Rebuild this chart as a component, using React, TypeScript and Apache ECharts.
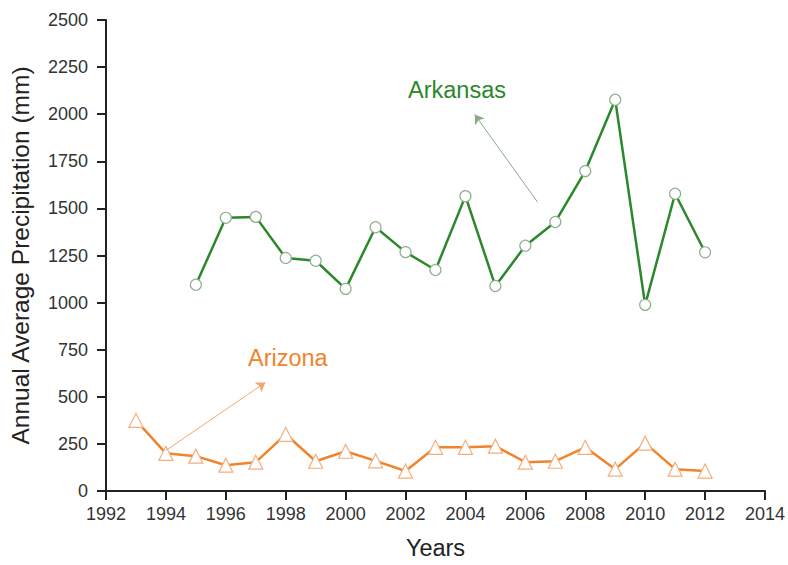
import React, { useEffect, useRef } from "react";
import * as echarts from "echarts";

const arkansasYears = [1995, 1996, 1997, 1998, 1999, 2000, 2001, 2002, 2003, 2004, 2005, 2006, 2007, 2008, 2009, 2010, 2011, 2012];
const arkansasValues = [1095, 1450, 1455, 1237, 1222, 1073, 1400, 1268, 1173, 1565, 1088, 1302, 1428, 1698, 2077, 988, 1578, 1267];

const arizonaYears = [1993, 1994, 1995, 1996, 1997, 1998, 1999, 2000, 2001, 2002, 2003, 2004, 2005, 2006, 2007, 2008, 2009, 2010, 2011, 2012];
const arizonaValues = [375, 200, 185, 137, 153, 301, 158, 211, 160, 106, 232, 232, 238, 153, 158, 232, 116, 254, 116, 106];

const arkansasArrow = [[2006.41, 1533], [2004.31, 1998]];
const arizonaArrow = [[1994.0, 215], [1997.32, 576]];

const FONT = "'Liberation Sans', Arial, sans-serif";

export default function App() {
  const ref = useRef<HTMLDivElement>(null);
  useEffect(() => {
    if (!ref.current) return;
    const chart = echarts.init(ref.current, undefined, { renderer: "svg" });
    const green = "#2b882b";
    const orange = "#f0842c";
    chart.setOption({
      animation: false,
      backgroundColor: "#ffffff",
      textStyle: { fontFamily: FONT },
      grid: { left: 106, right: 21, top: 20, bottom: 72 },
      xAxis: {
        type: "value",
        min: 1992,
        max: 2014,
        interval: 2,
        name: "Years",
        nameLocation: "middle",
        nameGap: 45,
        nameTextStyle: { fontSize: 23.5, color: "#222", fontFamily: FONT },
        axisLine: { show: true, lineStyle: { color: "#222", width: 2 } },
        axisTick: { show: true, length: 9, lineStyle: { color: "#222", width: 2 } },
        axisLabel: { fontSize: 18, color: "#333", margin: 14, fontFamily: FONT, formatter: (v: number) => String(v) },
        splitLine: { show: false },
      },
      yAxis: {
        type: "value",
        min: 0,
        max: 2500,
        interval: 250,
        name: "Annual Average Precipitation (mm)",
        nameLocation: "middle",
        nameGap: 73,
        nameTextStyle: { fontSize: 24.5, color: "#222", fontFamily: FONT },
        axisLine: { show: true, lineStyle: { color: "#222", width: 2 } },
        axisTick: { show: true, length: 9, lineStyle: { color: "#222", width: 2 } },
        axisLabel: { fontSize: 18, color: "#333", margin: 18, fontFamily: FONT, formatter: (v: number) => String(v) },
        splitLine: { show: false },
      },
      graphic: [
        {
          type: "text",
          left: 408,
          top: 78,
          style: { text: "Arkansas", fill: green, fontSize: 23.5, fontFamily: FONT },
        },
        {
          type: "text",
          left: 248,
          top: 346,
          style: { text: "Arizona", fill: orange, fontSize: 23.5, fontFamily: FONT },
        },
      ],
      series: [
        {
          name: "Arkansas",
          type: "line",
          data: arkansasYears.map((y, i) => [y, arkansasValues[i]]),
          symbol: "circle",
          symbolSize: 11,
          lineStyle: { color: green, width: 2.5 },
          itemStyle: { color: "#ffffff", borderColor: "#8fb08f", borderWidth: 1.2 },
          z: 3,
          markLine: {
            silent: true,
            symbol: ["none", "arrow"],
            symbolSize: 9,
            label: { show: false },
            lineStyle: { color: "#88aa88", width: 1, type: "solid" },
            itemStyle: { color: green },
            data: [[
              { coord: arkansasArrow[0], symbol: "none" },
              { coord: arkansasArrow[1], symbol: "arrow", itemStyle: { color: green } },
            ]],
          },
        },
        {
          name: "Arizona",
          type: "line",
          data: arizonaYears.map((y, i) => [y, arizonaValues[i]]),
          symbol: "triangle",
          symbolSize: 14,
          lineStyle: { color: orange, width: 2.5 },
          itemStyle: { color: "#ffffff", borderColor: "#f4ae7c", borderWidth: 1.2 },
          z: 3,
          markLine: {
            silent: true,
            symbol: ["none", "arrow"],
            symbolSize: 9,
            label: { show: false },
            lineStyle: { color: "#f4a670", width: 1, type: "solid" },
            itemStyle: { color: orange },
            data: [[
              { coord: arizonaArrow[0], symbol: "none" },
              { coord: arizonaArrow[1], symbol: "arrow", itemStyle: { color: orange } },
            ]],
          },
        },
      ],
    });
    return () => chart.dispose();
  }, []);
  return (
    <div
      ref={ref}
      style={{ position: "fixed", left: 0, top: 0, width: 788, height: 565, background: "#fff" }}
    />
  );
}
